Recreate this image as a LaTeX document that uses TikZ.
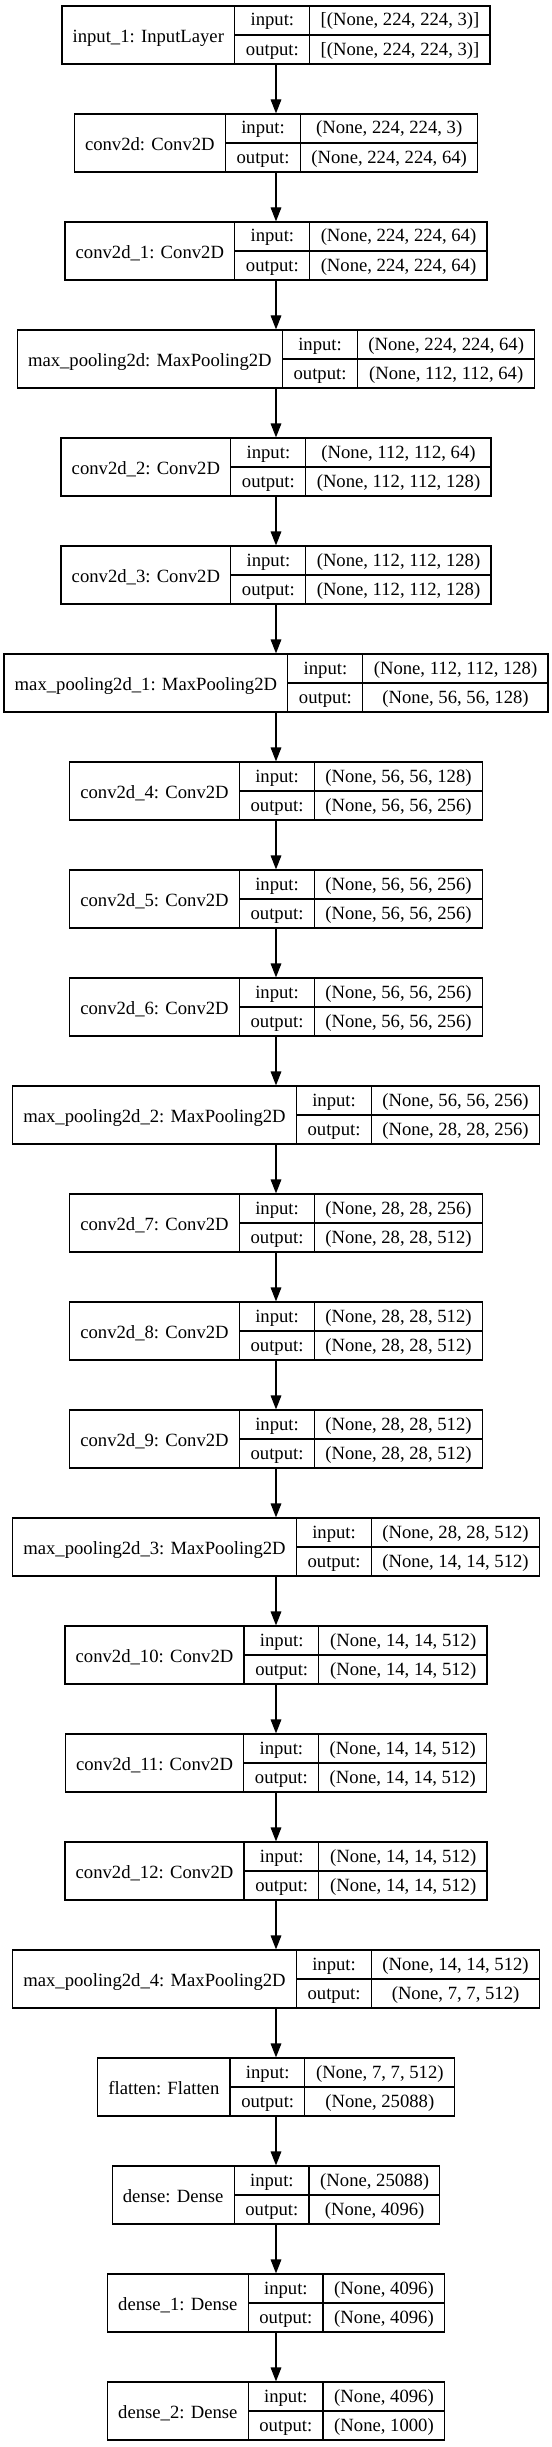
\documentclass[tikz,border=0pt]{standalone}
\usepackage{fontspec}
\setmainfont{Liberation Serif}
\usetikzlibrary{arrows.meta}

\begin{document}
\begin{tikzpicture}[line width = 0.9pt]
	\newcommand{\rowh}{21.3pt}
	\newcommand{\gap}{81pt}
	\newcommand{\rowst}{\rule[-6.3pt]{0pt}{\rowh}}
	\newcommand{\rec}[3]{%
		\begin{tabular}{@{\hspace{8pt}}c@{\hspace{8pt}}|@{}c@{}}
			\raisebox{-1.75pt}{#1} &
			\begin{tabular}{@{\hspace{8pt}}c@{\hspace{8pt}}|@{\hspace{8pt}}c@{\hspace{8pt}}}
				\rowst input: & #2 \\ \hline
				\rowst output: & #3
			\end{tabular}
		\end{tabular}}
	\renewcommand{\arraystretch}{0}
	\setlength{\arrayrulewidth}{0.9pt}
	\tikzstyle{layer} =[draw, inner sep=0, font=\fontsize{14}{17}\selectfont]
	\tikzstyle{conn} =[-{Triangle[length=10.5pt, width=8pt]}]
	\useasboundingbox (-207pt,26.25pt) rectangle (207pt,-1809pt);
	\foreach \nm/\ins/\outs [count=\i] in {
		{input\_1: InputLayer}/{[(None, 224, 224, 3)]}/{[(None, 224, 224, 3)]},
		{conv2d: Conv2D}/{(None, 224, 224, 3)}/{(None, 224, 224, 64)},
		{conv2d\_1: Conv2D}/{(None, 224, 224, 64)}/{(None, 224, 224, 64)},
		{max\_pooling2d: MaxPooling2D}/{(None, 224, 224, 64)}/{(None, 112, 112, 64)},
		{conv2d\_2: Conv2D}/{(None, 112, 112, 64)}/{(None, 112, 112, 128)},
		{conv2d\_3: Conv2D}/{(None, 112, 112, 128)}/{(None, 112, 112, 128)},
		{max\_pooling2d\_1: MaxPooling2D}/{(None, 112, 112, 128)}/{(None, 56, 56, 128)},
		{conv2d\_4: Conv2D}/{(None, 56, 56, 128)}/{(None, 56, 56, 256)},
		{conv2d\_5: Conv2D}/{(None, 56, 56, 256)}/{(None, 56, 56, 256)},
		{conv2d\_6: Conv2D}/{(None, 56, 56, 256)}/{(None, 56, 56, 256)},
		{max\_pooling2d\_2: MaxPooling2D}/{(None, 56, 56, 256)}/{(None, 28, 28, 256)},
		{conv2d\_7: Conv2D}/{(None, 28, 28, 256)}/{(None, 28, 28, 512)},
		{conv2d\_8: Conv2D}/{(None, 28, 28, 512)}/{(None, 28, 28, 512)},
		{conv2d\_9: Conv2D}/{(None, 28, 28, 512)}/{(None, 28, 28, 512)},
		{max\_pooling2d\_3: MaxPooling2D}/{(None, 28, 28, 512)}/{(None, 14, 14, 512)},
		{conv2d\_10: Conv2D}/{(None, 14, 14, 512)}/{(None, 14, 14, 512)},
		{conv2d\_11: Conv2D}/{(None, 14, 14, 512)}/{(None, 14, 14, 512)},
		{conv2d\_12: Conv2D}/{(None, 14, 14, 512)}/{(None, 14, 14, 512)},
		{max\_pooling2d\_4: MaxPooling2D}/{(None, 14, 14, 512)}/{(None, 7, 7, 512)},
		{flatten: Flatten}/{(None, 7, 7, 512)}/{(None, 25088)},
		{dense: Dense}/{(None, 25088)}/{(None, 4096)},
		{dense\_1: Dense}/{(None, 4096)}/{(None, 4096)},
		{dense\_2: Dense}/{(None, 4096)}/{(None, 1000)}}
		{\node[layer] (L\i) at (0,{-(\i-1)*\gap}) {\rec{\nm}{\ins}{\outs}}; }
	\foreach \i [evaluate=\i as \j using int(\i+1)] in {1,...,22}
		{\draw[conn] (L\i) -- (L\j); }
\end{tikzpicture}
\end{document}
